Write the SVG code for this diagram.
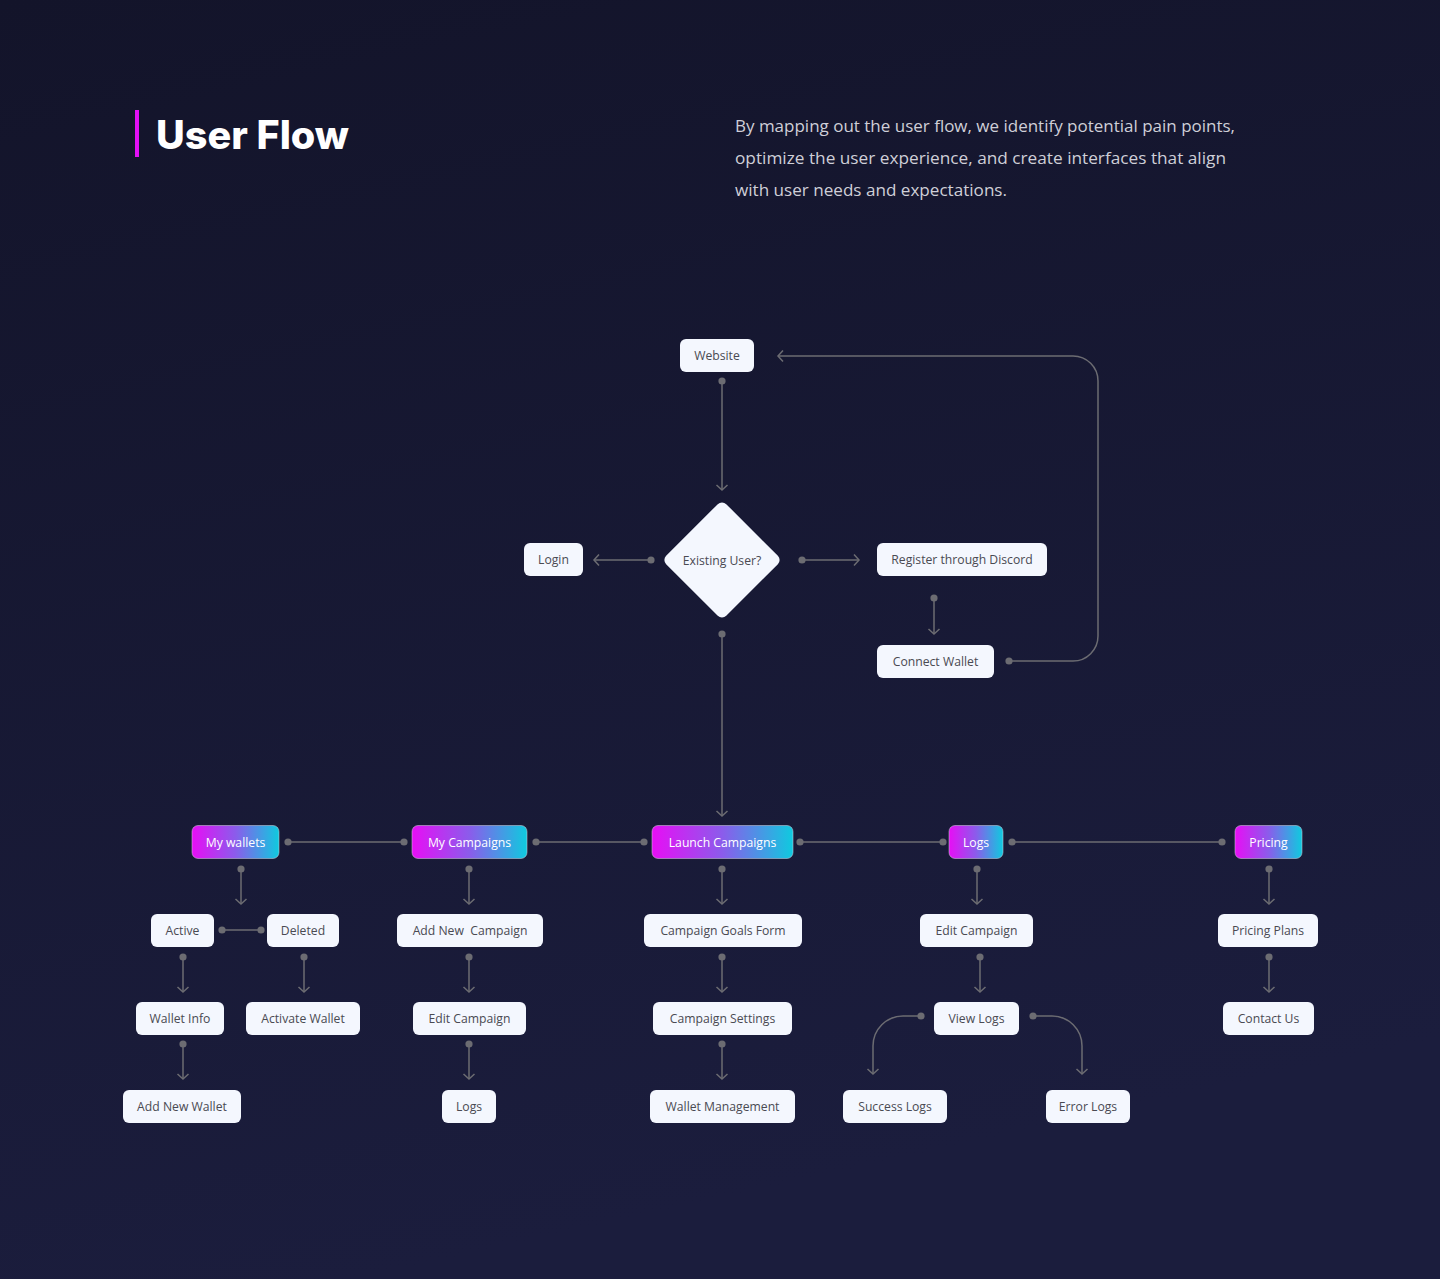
<svg xmlns="http://www.w3.org/2000/svg" width="1440" height="1279" viewBox="0 0 1440 1279">
<defs>
<linearGradient id="bg" x1="0" y1="0" x2="0.25" y2="1">
<stop offset="0" stop-color="#13142a"/>
<stop offset="1" stop-color="#1b1d3d"/>
</linearGradient>
<linearGradient id="grad" x1="0" y1="0" x2="1" y2="0">
<stop offset="0" stop-color="#e70ef5"/>
<stop offset="0.5" stop-color="#8b5ceb"/>
<stop offset="1" stop-color="#0fcadf"/>
</linearGradient>
<marker id="arr" markerUnits="userSpaceOnUse" markerWidth="14" markerHeight="14" refX="7" refY="7" orient="auto">
<path d="M2,1.5 L7,7 L2,12.5" fill="none" stroke="#6c6c72" stroke-width="1.5"/>
</marker>
<marker id="dot" markerUnits="userSpaceOnUse" markerWidth="10" markerHeight="10" refX="5" refY="5" orient="auto">
<circle cx="5" cy="5" r="3.6" fill="#6c6c72"/>
</marker>
<style>
.n rect{fill:#f4f7fe;}
.g rect{fill:url(#grad);stroke:#c9c9d8;stroke-opacity:0.55;stroke-width:1;}
.n text,.g text{font-family:"Open Sans","Noto Sans",sans-serif;font-size:12.2px;text-anchor:middle;dominant-baseline:central;}
.n text{fill:#4a4a52;}
.g text{fill:#ffffff;}
.c path{fill:none;stroke:#6c6c72;stroke-width:1.5;}
.a{marker-start:url(#dot);marker-end:url(#arr);}
.d{marker-start:url(#dot);marker-end:url(#dot);}
.desc{font-family:"Open Sans","Noto Sans",sans-serif;font-size:16px;fill:#cfcfd8;}
</style>
</defs>
<rect width="1440" height="1279" fill="url(#bg)"/>

<g id="title">
<rect x="135" y="110" width="4" height="47" fill="#e20ff5"/>
<text x="156" y="149" font-family="Inter,'Open Sans',sans-serif" font-weight="800" font-size="39" fill="#ffffff" textLength="193" lengthAdjust="spacingAndGlyphs">User Flow</text>
</g>
<g id="description">
<text class="desc" x="735" y="132" textLength="500" lengthAdjust="spacingAndGlyphs">By mapping out the user flow, we identify potential pain points,</text>
<text class="desc" x="735" y="164" textLength="491" lengthAdjust="spacingAndGlyphs">optimize the user experience, and create interfaces that align</text>
<text class="desc" x="735" y="196" textLength="272" lengthAdjust="spacingAndGlyphs">with user needs and expectations.</text>
</g>

<g id="connectors" class="c">
<path class="a" d="M722,381 V490"/>
<path class="a" d="M651,560 H594"/>
<path class="a" d="M802,560 H859"/>
<path class="a" d="M934,598 V634"/>
<path class="a" d="M1009,661 H1073 A25,25 0 0 0 1098,636 V381 A25,25 0 0 0 1073,356 H778"/>
<path class="a" d="M722,634 V816"/>
<path class="d" d="M288,842 H404"/>
<path class="d" d="M536,842 H644"/>
<path class="d" d="M800,842 H943"/>
<path class="d" d="M1012,842 H1222"/>
<path class="a" d="M241,869 V904"/>
<path class="a" d="M469,869 V904"/>
<path class="a" d="M722,869 V904"/>
<path class="a" d="M977,869 V904"/>
<path class="a" d="M1269,869 V904"/>
<path class="d" d="M222,930 H261"/>
<path class="a" d="M183,957 V992"/>
<path class="a" d="M304,957 V992"/>
<path class="a" d="M469,957 V992"/>
<path class="a" d="M722,957 V992"/>
<path class="a" d="M980,957 V992"/>
<path class="a" d="M1269,957 V992"/>
<path class="a" d="M183,1044 V1079"/>
<path class="a" d="M469,1044 V1079"/>
<path class="a" d="M722,1044 V1079"/>
<path class="a" d="M921,1016 H903 A30,30 0 0 0 873,1046 V1074"/>
<path class="a" d="M1033,1016 H1052 A30,30 0 0 1 1082,1046 V1074"/>
</g>

<g id="website" class="n"><rect x="680" y="339" width="74" height="33" rx="6"/><text x="717" y="355.5">Website</text></g>
<g id="existing-user" class="n"><rect x="-42.5" y="-42.5" width="85" height="85" rx="6" transform="translate(722,560) rotate(45)"/><text x="722" y="560">Existing User?</text></g>
<g id="login" class="n"><rect x="524" y="543" width="59" height="33" rx="6"/><text x="553.5" y="559.5">Login</text></g>
<g id="register" class="n"><rect x="877" y="543" width="170" height="33" rx="6"/><text x="962" y="559.5">Register through Discord</text></g>
<g id="connect-wallet" class="n"><rect x="877" y="645" width="117" height="33" rx="6"/><text x="935.5" y="661.5">Connect Wallet</text></g>

<g id="my-wallets" class="g"><rect x="192" y="825.5" width="87" height="33" rx="6"/><text x="235.5" y="842">My wallets</text></g>
<g id="my-campaigns" class="g"><rect x="412" y="825.5" width="115" height="33" rx="6"/><text x="469.5" y="842">My Campaigns</text></g>
<g id="launch-campaigns" class="g"><rect x="652" y="825.5" width="141" height="33" rx="6"/><text x="722.5" y="842">Launch Campaigns</text></g>
<g id="logs-main" class="g"><rect x="949" y="825.5" width="54" height="33" rx="6"/><text x="976" y="842">Logs</text></g>
<g id="pricing" class="g"><rect x="1235" y="825.5" width="67" height="33" rx="6"/><text x="1268.5" y="842">Pricing</text></g>

<g id="active" class="n"><rect x="151" y="914" width="63" height="33" rx="6"/><text x="182.5" y="930.5">Active</text></g>
<g id="deleted" class="n"><rect x="267" y="914" width="72" height="33" rx="6"/><text x="303" y="930.5">Deleted</text></g>
<g id="add-new-campaign" class="n"><rect x="397" y="914" width="146" height="33" rx="6"/><text x="470" y="930.5" xml:space="preserve">Add New  Campaign</text></g>
<g id="campaign-goals-form" class="n"><rect x="644" y="914" width="158" height="33" rx="6"/><text x="723" y="930.5">Campaign Goals Form</text></g>
<g id="edit-campaign-2" class="n"><rect x="920" y="914" width="113" height="33" rx="6"/><text x="976.5" y="930.5">Edit Campaign</text></g>
<g id="pricing-plans" class="n"><rect x="1218" y="914" width="100" height="33" rx="6"/><text x="1268" y="930.5">Pricing Plans</text></g>

<g id="wallet-info" class="n"><rect x="136" y="1002" width="88" height="33" rx="6"/><text x="180" y="1018.5">Wallet Info</text></g>
<g id="activate-wallet" class="n"><rect x="246" y="1002" width="114" height="33" rx="6"/><text x="303" y="1018.5">Activate Wallet</text></g>
<g id="edit-campaign-1" class="n"><rect x="413" y="1002" width="113" height="33" rx="6"/><text x="469.5" y="1018.5">Edit Campaign</text></g>
<g id="campaign-settings" class="n"><rect x="653" y="1002" width="139" height="33" rx="6"/><text x="722.5" y="1018.5">Campaign Settings</text></g>
<g id="view-logs" class="n"><rect x="934" y="1002" width="85" height="33" rx="6"/><text x="976.5" y="1018.5">View Logs</text></g>
<g id="contact-us" class="n"><rect x="1223" y="1002" width="91" height="33" rx="6"/><text x="1268.5" y="1018.5">Contact Us</text></g>

<g id="add-new-wallet" class="n"><rect x="123" y="1090" width="118" height="33" rx="6"/><text x="182" y="1106.5">Add New Wallet</text></g>
<g id="logs-sub" class="n"><rect x="442" y="1090" width="54" height="33" rx="6"/><text x="469" y="1106.5">Logs</text></g>
<g id="wallet-management" class="n"><rect x="650" y="1090" width="145" height="33" rx="6"/><text x="722.5" y="1106.5">Wallet Management</text></g>
<g id="success-logs" class="n"><rect x="843" y="1090" width="104" height="33" rx="6"/><text x="895" y="1106.5">Success Logs</text></g>
<g id="error-logs" class="n"><rect x="1046" y="1090" width="84" height="33" rx="6"/><text x="1088" y="1106.5">Error Logs</text></g>
</svg>
